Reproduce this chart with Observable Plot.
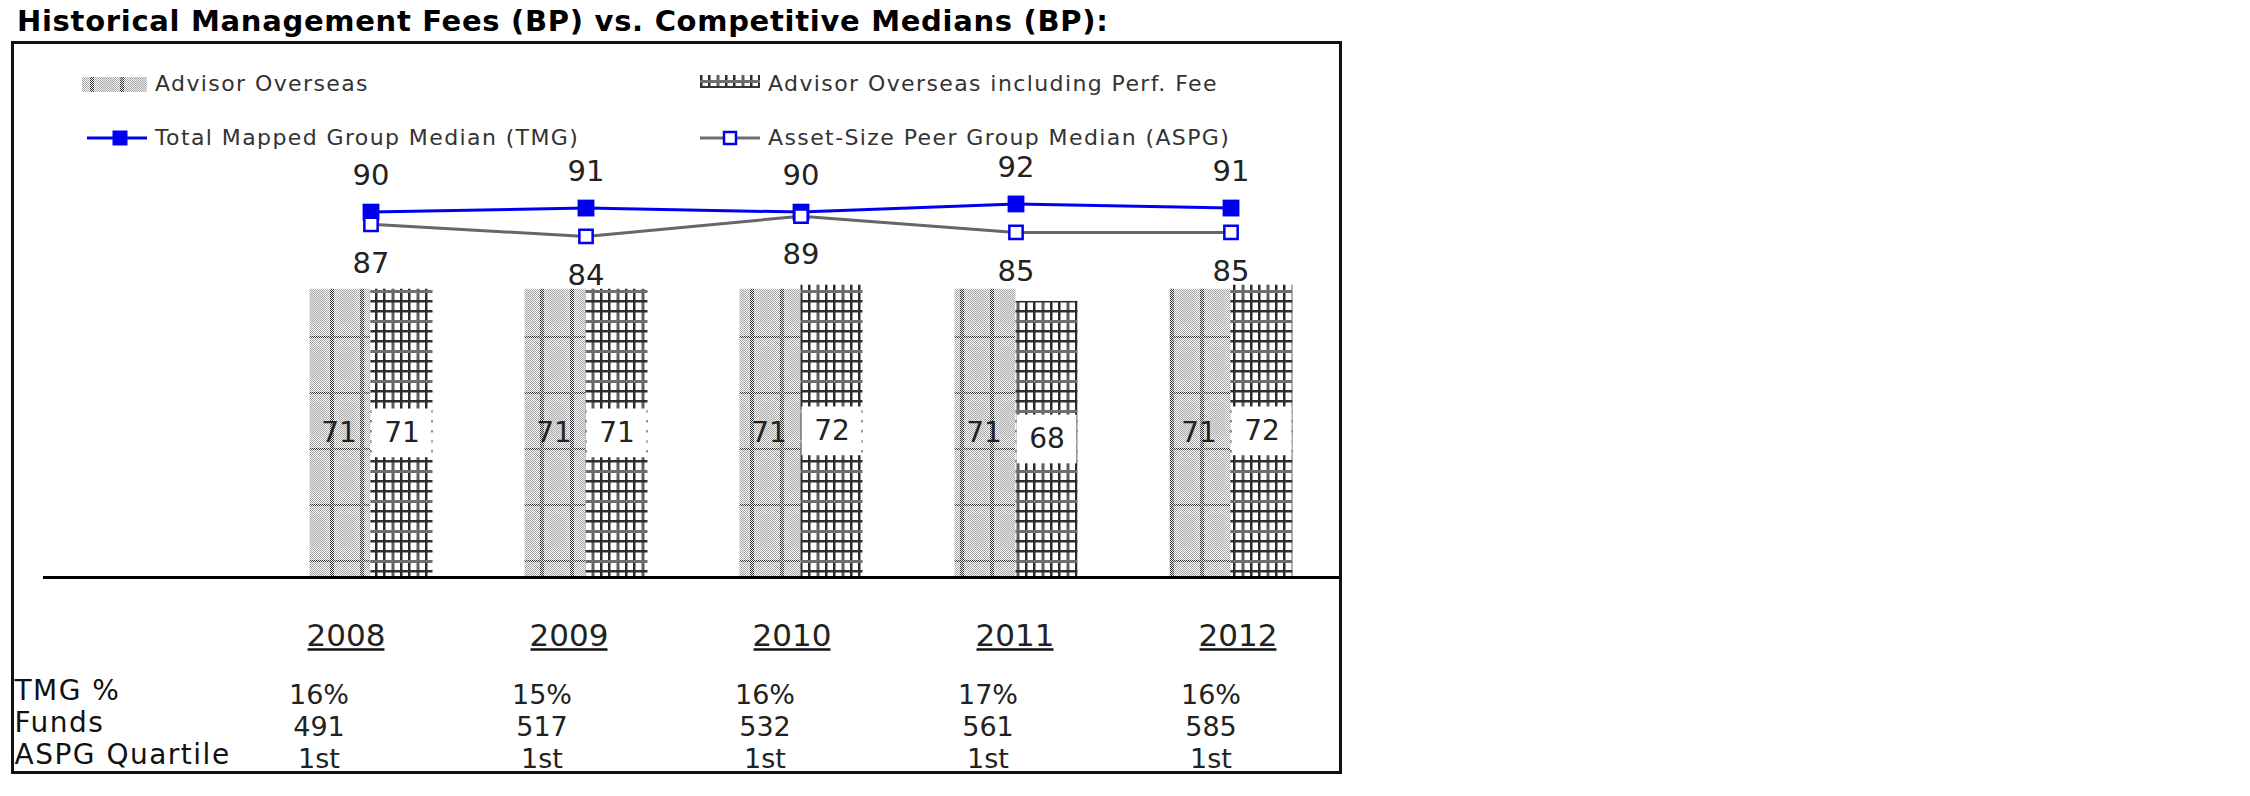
<!DOCTYPE html>
<html>
<head>
<meta charset="utf-8">
<script src="https://cdn.jsdelivr.net/npm/d3@7"></script>
<script src="https://cdn.jsdelivr.net/npm/@observablehq/plot@0.6"></script>
<style>
  html, body { margin: 0; padding: 0; background: #fff; }
  #wrap { position: relative; width: 2250px; height: 796px; overflow: hidden; background: #fff; }
  .layer { position: absolute; left: 0; top: 0; }
  #frame { position: absolute; left: 11px; top: 41px; width: 1331px; height: 733px; box-sizing: border-box; border: 3px solid #111; pointer-events: none; z-index: 5; }
  #overlay { position: absolute; left: 0; top: 0; z-index: 6; pointer-events: none; }
  text { font-family: "DejaVu Sans", Verdana, sans-serif; }
</style>
</head>
<body>
<div id="wrap">
  <svg width="0" height="0" style="position:absolute">
    <defs>
      <pattern id="chk" width="2" height="2" patternUnits="userSpaceOnUse">
        <rect width="2" height="2" fill="#ffffff"/>
        <rect width="1" height="1" fill="#a2a2a2"/>
        <rect x="1" y="1" width="1" height="1" fill="#a2a2a2"/>
      </pattern>
      <pattern id="chkDark" width="2" height="2" patternUnits="userSpaceOnUse">
        <rect width="2" height="2" fill="#f0f0f0"/>
        <rect width="1" height="1" fill="#333333"/>
        <rect x="1" y="1" width="1" height="1" fill="#333333"/>
      </pattern>
      <pattern id="patAO" width="30" height="56" patternUnits="userSpaceOnUse">
        <rect width="30" height="56" fill="url(#chk)"/>
        <rect x="9" y="10" width="16" height="34" fill="#c4c4c4" opacity="0.45"/>
        <rect x="0" y="0" width="4" height="56" fill="url(#chkDark)"/>
        <rect x="0" y="0" width="30" height="2" fill="url(#chkDark)"/>
      </pattern>
      <pattern id="patAOP" width="25" height="30" patternUnits="userSpaceOnUse">
        <rect width="25" height="30" fill="#ffffff"/>
        <rect x="0" y="0" width="2.5" height="30" fill="#2a2a2a"/>
        <rect x="8" y="0" width="2.5" height="30" fill="#2a2a2a"/>
        <rect x="16.5" y="0" width="3" height="30" fill="#5e5e5e"/>
        <rect x="0" y="0" width="25" height="2.5" fill="#2e2e2e"/>
        <rect x="0" y="10" width="25" height="2.5" fill="#2e2e2e"/>
        <rect x="0" y="20" width="25" height="3" fill="#6e6e6e"/>
      </pattern>
    </defs>
  </svg>
  <div id="chart" class="layer"></div>
  <div id="table" class="layer"></div>
  <div id="frame"></div>
  <svg id="overlay" width="1350" height="200">
    <text x="17" y="31" font-size="29" font-weight="bold" letter-spacing="0.7" fill="#000">Historical Management Fees (BP) vs. Competitive Medians (BP):</text>
    <!-- legend row 1 -->
    <rect x="82" y="77" width="65" height="15" fill="url(#patAO)"/>
    <text x="155" y="91" font-size="22" letter-spacing="1.4" fill="#333">Advisor Overseas</text>
    <rect x="700" y="75" width="60" height="11" fill="url(#patAOP)"/>
    <line x1="700" x2="760" y1="87" y2="87" stroke="#333" stroke-width="2"/>
    <text x="768" y="91" font-size="22" letter-spacing="1.4" fill="#333">Advisor Overseas including Perf. Fee</text>
    <!-- legend row 2 -->
    <line x1="87" x2="147" y1="138" y2="138" stroke="#0000f0" stroke-width="3"/>
    <rect x="112.5" y="130.5" width="15" height="15" fill="#0000f0"/>
    <text x="155" y="145" font-size="22" letter-spacing="1.4" fill="#333">Total Mapped Group Median (TMG)</text>
    <line x1="700" x2="760" y1="138" y2="138" stroke="#6e6e6e" stroke-width="3"/>
    <rect x="724" y="132" width="12" height="12" fill="#fff" stroke="#0000f0" stroke-width="2.5"/>
    <text x="768" y="145" font-size="22" letter-spacing="1.4" fill="#333">Asset-Size Peer Group Median (ASPG)</text>
  </svg>
</div>
<script>
// ---- data ----
const years = ["2008", "2009", "2010", "2011", "2012"];
const advisorOverseas = [71, 71, 71, 71, 71];
const advisorOverseasPerf = [71, 71, 72, 68, 72];
const tmgMedian = [90, 91, 90, 92, 91];
const aspgMedian = [87, 84, 89, 85, 85];
const tmgPct = ["16%", "15%", "16%", "17%", "16%"];
const fundsCount = ["491", "517", "532", "561", "585"];
const aspgQuartile = ["1st", "1st", "1st", "1st", "1st"];
const rowLabels = ["TMG %", "Funds", "ASPG Quartile"];

const rows = years.map((year, i) => ({
  year,
  ao: advisorOverseas[i],
  aop: advisorOverseasPerf[i],
  tmg: tmgMedian[i],
  aspg: aspgMedian[i]
}));
const cells = years.flatMap((year, i) => [
  { year, row: rowLabels[0], value: tmgPct[i] },
  { year, row: rowLabels[1], value: fundsCount[i] },
  { year, row: rowLabels[2], value: aspgQuartile[i] }
]);

const W = 1350, H = 796, base = 577;
const blue = "#0000f0", grey = "#676767", ink = "#222";
const font = "DejaVu Sans, Verdana, sans-serif";

const chart = Plot.plot({
  width: W,
  height: H,
  marginLeft: 43,
  marginRight: 9,
  marginTop: 0,
  marginBottom: H - base,
  style: { fontFamily: font, background: "transparent", overflow: "visible" },
  x: { type: "band", domain: years, padding: 0, range: [262.5, 1337.5], axis: null },
  y: { domain: [0, 100], range: [base, base - 406], axis: null },
  marks: [
    Plot.barY(rows, { x: "year", y: "ao", fill: "url(#patAO)", insetLeft: 46.5, insetRight: 107.5 }),
    Plot.barY(rows, { x: "year", y: "aop", fill: "url(#patAOP)", insetLeft: 107.5, insetRight: 45.5 }),
    Plot.barY(rows, { x: "year", y1: d => d.aop / 2 - 6, y2: d => d.aop / 2 + 6, fill: "white", insetLeft: 108.5, insetRight: 46.5 }),
    Plot.text(rows, { x: "year", y: d => d.ao / 2, text: d => String(d.ao), dx: -32, fontSize: 28, fill: ink }),
    Plot.text(rows, { x: "year", y: d => d.aop / 2, text: d => String(d.aop), dx: 31, fontSize: 28, fill: ink }),
    Plot.ruleY([0], { stroke: "#000", strokeWidth: 3 }),
    Plot.line(rows, { x: "year", y: "aspg", stroke: grey, strokeWidth: 3 }),
    Plot.line(rows, { x: "year", y: "tmg", stroke: blue, strokeWidth: 3 }),
    Plot.dot(rows, { x: "year", y: "tmg", symbol: "square", r: 9.5, fill: blue }),
    Plot.dot(rows, { x: "year", y: "aspg", symbol: "square", r: 7.5, fill: "white", stroke: blue, strokeWidth: 2.5 }),
    Plot.text(rows, { x: "year", y: "tmg", text: d => String(d.tmg), dy: -36, fontSize: 29, fill: ink }),
    Plot.text(rows, { x: "year", y: "aspg", text: d => String(d.aspg), dy: 39, fontSize: 29, fill: ink })
  ]
});
document.getElementById("chart").appendChild(chart);

// table below the chart: its own column scale
const table = Plot.plot({
  width: W,
  height: H,
  marginLeft: 14,
  marginRight: 0,
  marginTop: 0,
  marginBottom: 0,
  style: { fontFamily: font, background: "transparent", overflow: "visible" },
  x: { type: "band", domain: years, padding: 0, range: [232.25, 1349.75], axis: null },
  y: { type: "point", domain: rowLabels, padding: 0, range: [692, 757.5], axis: null },
  marks: [
    Plot.text(years, { x: d => d, text: d => d, frameAnchor: "top", lineAnchor: "middle", dy: 636, fontSize: 31, fill: ink }),
    Plot.text(cells, { x: "year", y: "row", text: "value", dx: -27, dy: 2, fontSize: 27, fill: ink }),
    Plot.text(rowLabels, { y: d => d, text: d => d, frameAnchor: "left", textAnchor: "start", dy: -2, fontSize: 28, fill: "#111" })
  ]
});
document.getElementById("table").appendChild(table);

// styling touches: underline year headers, widen row labels
const ns = "http://www.w3.org/2000/svg";
const origin = table.getBoundingClientRect();
table.querySelectorAll("text").forEach(t => {
  if (rowLabels.includes(t.textContent)) t.setAttribute("letter-spacing", "1.5");
});
table.querySelectorAll("text").forEach(t => {
  if (years.includes(t.textContent)) {
    const r = t.getBoundingClientRect();
    const yb = r.top - origin.top + r.height * 0.797 + 3.5;
    const ln = document.createElementNS(ns, "line");
    ln.setAttribute("x1", r.left - origin.left + 1);
    ln.setAttribute("x2", r.right - origin.left - 1);
    ln.setAttribute("y1", yb);
    ln.setAttribute("y2", yb);
    ln.setAttribute("stroke", "#111");
    ln.setAttribute("stroke-width", "2.5");
    table.appendChild(ln);
  }
});
</script>
</body>
</html>
